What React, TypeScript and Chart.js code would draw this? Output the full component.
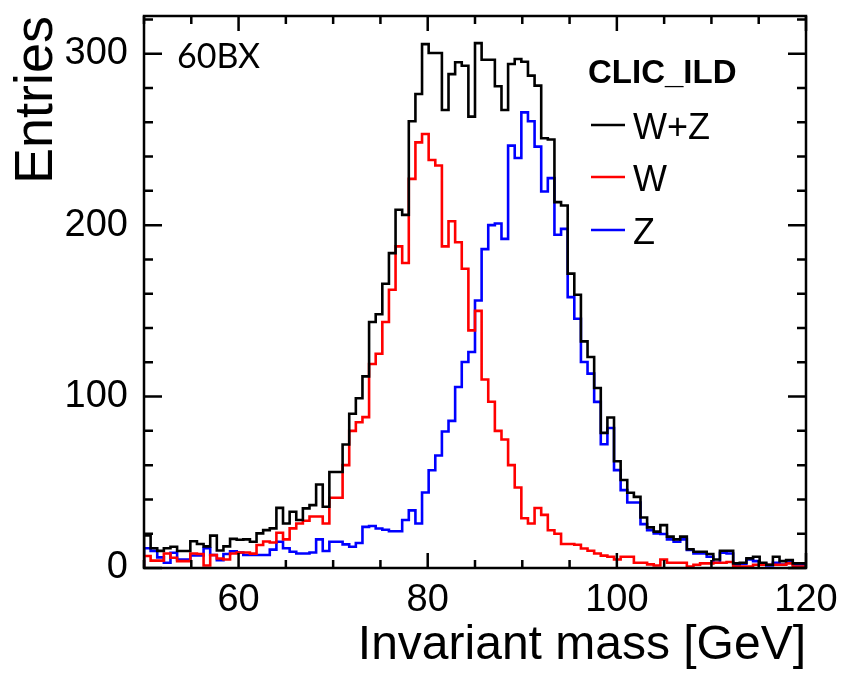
import React, { useEffect, useRef } from "react";
import { Chart, registerables } from "chart.js";

Chart.register(...registerables);

// ---- axis / binning ----
const X_MIN = 50;
const X_MAX = 120;
const BIN_WIDTH = 0.7;
const Y_MIN = 0;
const Y_MAX = 322;
const X_TICKS = [60, 80, 100, 120];
const Y_TICKS = [0, 100, 200, 300];
const X_MINOR_STEP = 5;
const Y_MINOR_STEP = 20;
const X_MAJOR_STEP = 20;
const Y_MAJOR_STEP = 100;

// ---- texts ----
const X_TITLE = "Invariant mass [GeV]";
const Y_TITLE = "Entries";
const TAG = "60BX";
const HEADER = "CLIC_ILD";

// ---- series (entries per 0.7 GeV bin, 50..120 GeV) ----
const SERIES_LABELS = ["W+Z", "W", "Z"];
const SERIES_COLORS = ["#000000", "#ff0000", "#0000ff"];

const WZ = [
  9.5, 19, 11.5, 10, 11.5, 12.4, 9.9, 9.9, 15.6, 14,
  12.6, 18.9, 10.2, 12.6, 17, 16.5, 16.7, 15.3, 20.2, 22.1,
  23.1, 35.1, 26, 32.8, 28, 34.8, 36.7, 48.7, 35.7, 56,
  56, 72, 90, 99, 111.8, 143.5, 148, 165.8, 183.7, 209,
  206, 260.6, 276.5, 305.6, 300.4, 300.4, 267.2, 288.1, 295, 293,
  263.3, 306.2, 296.5, 296.5, 281, 267.2, 294, 296.9, 295.3, 287.2,
  281.4, 250.7, 250, 213.4, 211.5, 171.7, 159.4, 132.2, 123.1, 105,
  78.8, 87.8, 62.3, 51.3, 43.9, 41.5, 29.5, 23.7, 21.2, 25,
  18.3, 16.7, 18.3, 10.9, 9.5, 9.5, 8.2, 5, 10.1, 10.1,
  2.7, 3.1, 5.6, 6.6, 3.1, 1.9, 6.6, 4, 4.7, 2.7,
];

const W = [
  5, 7, 4.3, 4.3, 8.5, 6, 4, 4, 8.5, 8.2,
  1.5, 7.5, 5.5, 5, 8.5, 9, 9, 8.4, 13.4, 15.5,
  14.9, 20.6, 16.7, 23.1, 26, 27.6, 30, 30, 26, 41,
  41, 60, 80, 85, 88, 119, 125, 143.5, 162.3, 187.6,
  177.9, 227, 248.3, 253.2, 238, 234.8, 187.6, 202.3, 190, 174.6,
  138.6, 150, 110, 97, 80, 75, 60, 47, 29, 26,
  35, 31, 22, 20, 14, 14, 13.6, 11.4, 10.1, 8.5,
  7.2, 6.6, 5, 6.6, 6.6, 3.1, 3.1, 2.1, 1.5, 5,
  3.1, 3.1, 3.1, 0.8, 1.9, 2.7, 2.7, 3.1, 3.1, 3.5,
  0.8, 0.8, 0.8, 1.9, 1.9, 1.9, 1.9, 1.9, 2.7, 0.8,
];

const Z = [
  5.6, 11.5, 10, 6.2, 3.1, 8.9, 5, 5, 7.3, 7.3,
  11.5, 7.6, 4.5, 8.2, 9.8, 9, 7.6, 7.6, 7.6, 7.6,
  10.7, 15.3, 11.5, 9.5, 8.5, 8.5, 9, 16.7, 9.9, 15.3,
  15.3, 13.8, 12.4, 14.6, 24, 24.5, 23, 22.3, 21.4, 21.4,
  28, 33.6, 26, 44, 57, 65.6, 79.6, 85.8, 105.6, 120.2,
  126, 156, 186, 200, 201, 192, 246.4, 239.2, 265.8, 260.6,
  245.8, 219.6, 227.4, 194.4, 197.8, 158, 145.4, 120.2, 113.4, 96.9,
  72.2, 81.7, 57.1, 45.4, 38.2, 38.2, 25.6, 22.1, 20.2, 19.8,
  16.7, 15.3, 16.7, 10.5, 8.5, 8.5, 6.6, 3.1, 8.9, 8.5,
  2.1, 2.5, 5, 4, 2.5, 1.5, 3.1, 2, 4, 2,
];

const SERIES = [WZ, W, Z];

function histogramOutline(values: number[]) {
  const pts: { x: number; y: number }[] = [{ x: X_MIN, y: 0 }];
  values.forEach((v, i) => pts.push({ x: X_MIN + i * BIN_WIDTH, y: v }));
  pts.push({ x: X_MAX, y: values[values.length - 1] });
  pts.push({ x: X_MAX, y: 0 });
  return pts;
}

const FONT = "'Liberation Sans', Arial, sans-serif";

const framePlugin = {
  id: "rootFrame",
  afterDatasetsDraw(chart: any) {
    const { ctx, chartArea, scales } = chart;
    const xs = scales.x;
    const ys = scales.y;
    const { left, right, top, bottom } = chartArea;
    ctx.save();
    ctx.strokeStyle = "#000";
    ctx.lineWidth = 2.5;
    ctx.lineCap = "butt";
    ctx.strokeRect(left, top, right - left, bottom - top);

    // x ticks (bottom and top, inward)
    for (let v = X_MIN; v <= X_MAX; v += X_MINOR_STEP) {
      const px = xs.getPixelForValue(v);
      const len = v % X_MAJOR_STEP === 0 ? 15 : 8;
      ctx.beginPath();
      ctx.moveTo(px, bottom);
      ctx.lineTo(px, bottom - len);
      ctx.moveTo(px, top);
      ctx.lineTo(px, top + len);
      ctx.stroke();
    }
    // y ticks (left and right, inward)
    for (let v = Y_MIN; v <= Y_MAX; v += Y_MINOR_STEP) {
      const py = ys.getPixelForValue(v);
      const len = v % Y_MAJOR_STEP === 0 ? 18 : 9;
      ctx.beginPath();
      ctx.moveTo(left, py);
      ctx.lineTo(left + len, py);
      ctx.moveTo(right, py);
      ctx.lineTo(right - len, py);
      ctx.stroke();
    }

    // tag text
    ctx.fillStyle = "#000";
    ctx.textBaseline = "alphabetic";
    ctx.textAlign = "left";
    ctx.font = "34px Lato, 'Open Sans', sans-serif";
    ctx.fillText(TAG, 177, 68);

    // header
    ctx.font = `bold 33px ${FONT}`;
    ctx.fillText(HEADER, 588, 83);

    // legend
    const rows = [125, 177, 230];
    chart.data.datasets.forEach((ds: any, i: number) => {
      const y = rows[i];
      ctx.strokeStyle = ds.borderColor;
      ctx.lineWidth = 2.5;
      ctx.beginPath();
      ctx.moveTo(591, y);
      ctx.lineTo(625, y);
      ctx.stroke();
      ctx.fillStyle = "#000";
      ctx.font = `36px ${FONT}`;
      ctx.fillText(ds.label, 633, y + 13.5);
    });
    ctx.restore();
  },
};

export default function App() {
  const canvasRef = useRef<HTMLCanvasElement | null>(null);

  useEffect(() => {
    const canvas = canvasRef.current;
    if (!canvas) return;
    const chart = new Chart(canvas, {
      type: "line",
      data: {
        datasets: SERIES.map((vals, i) => ({
          label: SERIES_LABELS[i],
          data: histogramOutline(vals),
          borderColor: SERIES_COLORS[i],
          backgroundColor: SERIES_COLORS[i],
          borderWidth: 2.6,
          stepped: "after" as const,
          pointRadius: 0,
          fill: false,
          tension: 0,
        })),
      },
      options: {
        responsive: false,
        animation: false,
        devicePixelRatio: 1,
        events: [],
        layout: { padding: { top: 16, right: 39, left: 0, bottom: 0 } },
        plugins: {
          legend: { display: false },
          tooltip: { enabled: false },
          title: { display: false },
        },
        scales: {
          x: {
            type: "linear",
            min: X_MIN,
            max: X_MAX,
            grid: { display: false, drawTicks: false },
            border: { display: false },
            afterBuildTicks: (scale: any) => {
              scale.ticks = X_TICKS.map((v) => ({ value: v }));
            },
            afterFit: (scale: any) => {
              scale.height = 107;
              scale.paddingLeft = 0;
              scale.paddingRight = 0;
            },
            ticks: {
              autoSkip: false,
              maxRotation: 0,
              padding: 10,
              color: "#000",
              font: { family: FONT, size: 38 },
            },
            title: {
              display: true,
              text: X_TITLE,
              align: "end",
              color: "#000",
              font: { family: FONT, size: 48 },
              padding: { top: 0, bottom: 0 },
            },
          },
          y: {
            type: "linear",
            min: Y_MIN,
            max: Y_MAX,
            grid: { display: false, drawTicks: false },
            border: { display: false },
            afterBuildTicks: (scale: any) => {
              scale.ticks = Y_TICKS.map((v) => ({ value: v }));
            },
            afterFit: (scale: any) => {
              scale.width = 144;
              scale.paddingTop = 0;
              scale.paddingBottom = 0;
            },
            ticks: {
              autoSkip: false,
              padding: 16,
              color: "#000",
              font: { family: FONT, size: 38 },
            },
            title: {
              display: true,
              text: Y_TITLE,
              align: "end",
              color: "#000",
              font: { family: FONT, size: 54 },
              padding: { top: 5, bottom: 0 },
            },
          },
        },
      },
      plugins: [framePlugin],
    });
    return () => chart.destroy();
  }, []);

  return (
    <div style={{ position: "fixed", left: 0, top: 0, width: 845, height: 675, background: "#fff" }}>
      <canvas ref={canvasRef} width={845} height={675} style={{ display: "block" }} />
    </div>
  );
}
